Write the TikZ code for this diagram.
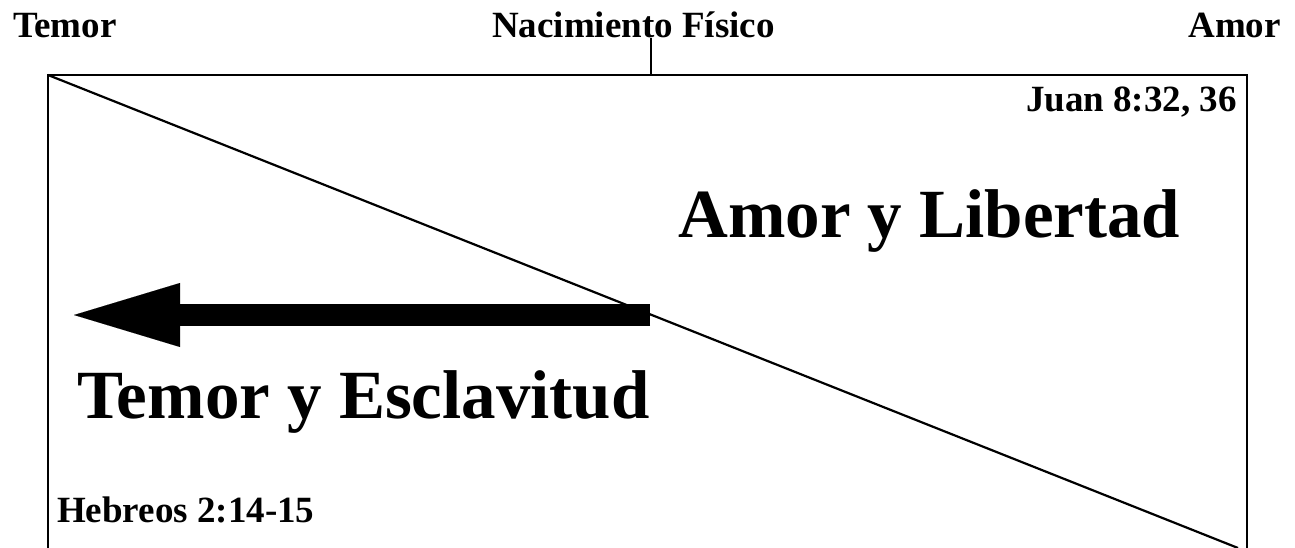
\documentclass[tikz,border=0pt]{standalone}
\usepackage{fontspec}
\setmainfont{Liberation Serif}
\usetikzlibrary{arrows.meta}
\tikzset{
  small/.style={inner sep=0pt, anchor=base west, font=\bfseries\fontsize{37}{42}\selectfont},
  big/.style={inner sep=0pt, anchor=base west, font=\bfseries\fontsize{69}{76}\selectfont},
  frame/.style={line width=2.6pt, line join=miter},
  diag/.style={line width=2.2pt},
  bigarrow/.style={line width=22pt, -{Triangle[length=106pt,width=64pt,line width=0.01pt]}}
}
\begin{document}
\begin{tikzpicture}[x=1pt,y=-1pt]
\useasboundingbox (0,0) rectangle (1295,548);
% labels
\node[small] (temor) at (13,38) {Temor};
\node[small] (nac) at (492,38) {Nacimiento Físico};
\node[small, anchor=base east] (amor) at (1281,38) {Amor};
\node[small, anchor=base east] (juan) at (1237,112) {Juan 8:32, 36};
\node[big] (amorlib) at (678,237) {Amor y Libertad};
\node[big] (temesc) at (77,418) {Temor y Esclavitud};
\node[small] (heb) at (57,522) {Hebreos 2:14-15};
% frame
\coordinate (bl) at (48,548);
\coordinate (tl) at (48,75);
\coordinate (tr) at (1247,75);
\coordinate (br) at (1247,548);
\coordinate (tickt) at (651,38);
\coordinate (tickb) at (651,75);
\coordinate (dend) at (1238,548);
\draw[frame] (bl) -- (tl) -- (tr) -- (br);
\draw[line width=2pt] (tickt) -- (tickb);
\draw[diag] (tl) -- (dend);
% arrow
\coordinate (arrS) at (650,315);
\coordinate (arrE) at (74,315);
\draw[bigarrow] (arrS) -- (arrE);
\end{tikzpicture}
\end{document}
